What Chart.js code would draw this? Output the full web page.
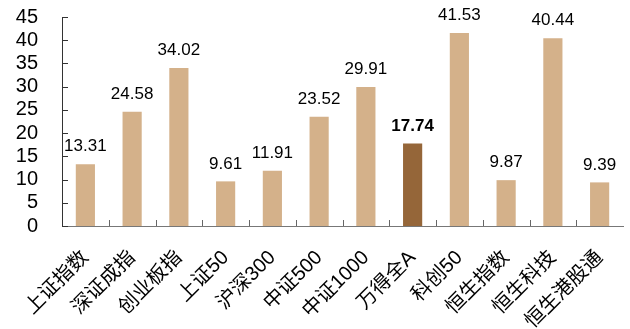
<!DOCTYPE html>
<html>
<head>
<meta charset="utf-8">
<script src="https://cdn.jsdelivr.net/npm/chart.js@4.4.0/dist/chart.umd.min.js"></script>
<style>
  html, body { margin: 0; padding: 0; background: #fff; }
  #wrap { width: 630px; height: 329px; }
</style>
</head>
<body>
<div id="wrap"><canvas id="myChart" width="630" height="329"></canvas></div>
<script>
// 데이터
var labels = ['上证指数', '深证成指', '创业板指', '上证50', '沪深300', '中证500', '中证1000', '万得全A', '科创50', '恒生指数', '恒生科技', '恒生港股通'];
var values = [13.31, 24.58, 34.02, 9.61, 11.91, 23.52, 29.91, 17.74, 41.53, 9.87, 40.44, 9.39];
var highlight = '万得全A';

var lightColor = '#D4B18A';
var darkColor = '#956639';

var barColors = labels.map(function(l){ return l === highlight ? darkColor : lightColor; });

// 값 라벨 + 안쪽 눈금 그리기
var valuePlugin = {
	id: 'valueLabels',
	afterDatasetsDraw: function(chart){
		var ctx = chart.ctx;
		var meta = chart.getDatasetMeta(0);
		ctx.save();
		ctx.fillStyle = '#000';
		ctx.textAlign = 'center';
		ctx.textBaseline = 'bottom';
		meta.data.forEach(function(bar, i){
			var bold = labels[i] === highlight;
			ctx.font = (bold ? 'bold ' : '') + '17px "Liberation Sans", Arial, sans-serif';
			ctx.fillText(values[i].toFixed(2), bar.x, bar.y - 9);
		});
		ctx.restore();
	},
	afterDraw: function(chart){
		var ctx = chart.ctx;
		var x = chart.scales.x, y = chart.scales.y;
		var area = chart.chartArea;
		ctx.save();
		ctx.lineWidth = 1;
		// y축 눈금
		ctx.strokeStyle = '#333';
		y.ticks.forEach(function(t){
			var py = Math.round(y.getPixelForValue(t.value)) + 0.5;
			ctx.beginPath();
			ctx.moveTo(area.left, py);
			ctx.lineTo(area.left + 6, py);
			ctx.stroke();
		});
		// x축 눈금 (카테고리 사이)
		ctx.strokeStyle = '#666';
		for (var i = 1; i < labels.length; i++) {
			var px = Math.round((x.getPixelForValue(i - 1) + x.getPixelForValue(i)) / 2) + 0.5;
			ctx.beginPath();
			ctx.moveTo(px, area.bottom);
			ctx.lineTo(px, area.bottom - 6);
			ctx.stroke();
		}
		ctx.restore();
	}
};

const ctx = document.getElementById('myChart').getContext('2d');
const myChart = new Chart(ctx, {
	type: 'bar',
	data: {
		labels: labels,
		datasets: [{
			data: values,
			backgroundColor: barColors,
			borderWidth: 0,
			barPercentage: 0.41,
			categoryPercentage: 1.0
		}]
	},
	options: {
		responsive: false,
		animation: false,
		layout: { padding: { top: 17, right: 7, left: 0, bottom: 0 } },
		plugins: {
			legend: { display: false },
			tooltip: { enabled: false }
		},
		scales: {
			x: {
				grid: { display: false },
				border: { display: true, color: '#777', width: 1 },
				ticks: {
					color: '#000',
					maxRotation: 45,
					minRotation: 45,
					autoSkip: false,
					padding: 12,
					font: { family: '"Liberation Sans", "Noto Sans CJK SC", sans-serif', size: 20 }
				},
				afterFit: function(scale){ scale.height = 103; scale.paddingLeft = 0; scale.paddingRight = 0; }
			},
			y: {
				min: 0,
				max: 45,
				grid: { display: false },
				border: { display: true, color: '#333', width: 1 },
				ticks: {
					stepSize: 5,
					autoSkip: false,
					color: '#000',
					padding: 16,
					font: { family: '"Liberation Sans", Arial, sans-serif', size: 20 }
				},
				afterFit: function(scale){ scale.width = 62; scale.paddingTop = 0; scale.paddingBottom = 0; }
			}
		}
	},
	plugins: [valuePlugin]
});
</script>
</body>
</html>
